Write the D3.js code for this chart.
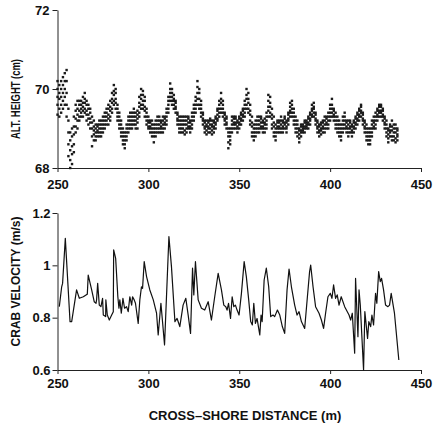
<!DOCTYPE html>
<html>
<head>
<meta charset="utf-8">
<script src="https://cdn.jsdelivr.net/npm/d3@7"></script>
<style>
  body { margin: 0; background: #fff; }
  svg text { font-family: "Liberation Sans", Arial, sans-serif; font-weight: bold; fill: #111; }
</style>
</head>
<body>
<svg id="chart" width="435" height="431"></svg>
<script>
// x ticks shared by both panels
const distTicks = [250, 300, 350, 400, 450];
const altTicks = [68, 70, 72];
const velTicks = [0.6, 0.8, 1, 1.2];

// altimeter height: [distance, heights seen in that column...]
const altCols = [
  [250, 69.35, 69.6, 69.8, 70.0, 70.2], [251, 69.3, 69.5, 69.75, 69.9, 70.1],
  [252, 69.4, 69.6, 69.8, 70.0, 70.2], [253, 69.5, 69.7, 69.9, 70.1, 70.3],
  [254, 69.6, 69.8, 70.0, 70.2, 70.4], [255, 69.3, 69.6, 69.9, 70.2, 70.48],
  [256, 68.3, 68.6, 68.9, 69.2, 69.5], [257, 68.0, 68.2, 68.45, 68.7, 68.9],
  [258, 68.1, 68.35, 68.55, 68.8, 69.0], [259, 68.4, 68.6, 68.85, 69.05, 69.3],
  [260, 68.9, 69.05, 69.25, 69.45, 69.6], [261, 69.0, 69.2, 69.35, 69.5, 69.7],
  [262, 69.2, 69.3, 69.45, 69.6, 69.7], [263, 69.3, 69.4, 69.5, 69.6, 69.7],
  [264, 69.3, 69.45, 69.55, 69.65, 69.8], [265, 69.4, 69.5, 69.65, 69.75, 69.9],
  [266, 69.2, 69.35, 69.45, 69.6, 69.7], [267, 69.1, 69.25, 69.35, 69.5, 69.6],
  [268, 69.0, 69.15, 69.25, 69.4, 69.5], [269, 68.55, 68.8, 69.0, 69.15, 69.3],
  [270, 68.7, 68.85, 68.95, 69.05, 69.2], [271, 68.7, 68.8, 68.9, 69.0, 69.1],
  [272, 68.8, 68.9, 68.95, 69.05, 69.1], [273, 68.8, 68.9, 69.0, 69.1, 69.2],
  [274, 68.8, 68.9, 69.0, 69.1, 69.2], [275, 68.9, 69.0, 69.1, 69.2, 69.3],
  [276, 69.0, 69.1, 69.2, 69.3, 69.4], [277, 69.1, 69.2, 69.3, 69.4, 69.5],
  [278, 69.1, 69.25, 69.35, 69.5, 69.6], [279, 69.2, 69.3, 69.45, 69.55, 69.7],
  [280, 69.4, 69.5, 69.65, 69.75, 69.9], [281, 69.6, 69.7, 69.85, 69.95, 70.1],
  [282, 69.5, 69.65, 69.75, 69.9, 70.0], [283, 69.2, 69.3, 69.4, 69.5, 69.6],
  [284, 69.0, 69.1, 69.2, 69.3, 69.4], [285, 68.8, 68.9, 69.0, 69.1, 69.2],
  [286, 68.6, 68.7, 68.8, 68.9, 69.0], [287, 68.5, 68.6, 68.7, 68.8, 68.9],
  [288, 68.7, 68.8, 68.9, 69.0, 69.1], [289, 68.9, 69.0, 69.1, 69.2, 69.3],
  [290, 69.0, 69.1, 69.2, 69.3, 69.4], [291, 69.0, 69.1, 69.2, 69.3, 69.4],
  [292, 69.1, 69.2, 69.3, 69.4, 69.5], [293, 69.0, 69.1, 69.2, 69.3, 69.4],
  [294, 69.0, 69.15, 69.25, 69.35, 69.45], [295, 69.3, 69.4, 69.55, 69.65, 69.8],
  [296, 69.5, 69.6, 69.75, 69.85, 70.0], [297, 69.5, 69.6, 69.7, 69.85, 69.95],
  [298, 69.3, 69.45, 69.55, 69.7, 69.8], [299, 69.1, 69.2, 69.3, 69.4, 69.5],
  [300, 69.0, 69.05, 69.15, 69.2, 69.3], [301, 68.9, 69.0, 69.05, 69.15, 69.2],
  [302, 68.8, 68.9, 69.0, 69.1, 69.2], [303, 68.65, 68.8, 68.9, 69.0, 69.1],
  [304, 68.8, 68.9, 69.0, 69.1, 69.2], [305, 68.9, 69.0, 69.1, 69.2, 69.3],
  [306, 68.9, 69.0, 69.1, 69.2, 69.3], [307, 68.9, 69.0, 69.05, 69.15, 69.2],
  [308, 68.9, 69.0, 69.1, 69.2, 69.3], [309, 69.0, 69.1, 69.15, 69.25, 69.3],
  [310, 69.1, 69.2, 69.3, 69.4, 69.5], [311, 69.4, 69.5, 69.6, 69.7, 69.8],
  [312, 69.7, 69.8, 69.9, 70.0, 70.14], [313, 69.6, 69.7, 69.8, 69.9, 70.0],
  [314, 69.5, 69.6, 69.7, 69.75, 69.85], [315, 69.4, 69.5, 69.55, 69.65, 69.7],
  [316, 69.1, 69.2, 69.25, 69.35, 69.4], [317, 68.9, 69.0, 69.1, 69.2, 69.3],
  [318, 68.9, 69.0, 69.1, 69.2, 69.3], [319, 68.9, 69.0, 69.1, 69.2, 69.3],
  [320, 68.85, 68.95, 69.1, 69.2, 69.3], [321, 68.9, 69.0, 69.1, 69.2, 69.3],
  [322, 69.0, 69.05, 69.15, 69.25, 69.3], [323, 68.9, 69.0, 69.05, 69.15, 69.2],
  [324, 69.0, 69.1, 69.2, 69.3, 69.4], [325, 69.2, 69.3, 69.4, 69.5, 69.6],
  [326, 69.4, 69.5, 69.6, 69.7, 69.8], [327, 69.6, 69.75, 69.9, 70.05, 70.2],
  [328, 69.5, 69.6, 69.75, 69.9, 70.0], [329, 69.3, 69.4, 69.5, 69.6, 69.7],
  [330, 69.1, 69.2, 69.25, 69.35, 69.4], [331, 68.9, 69.0, 69.05, 69.15, 69.2],
  [332, 68.85, 68.95, 69.05, 69.1, 69.2], [333, 68.9, 69.0, 69.05, 69.15, 69.2],
  [334, 68.9, 69.0, 69.1, 69.2, 69.25], [335, 68.85, 68.95, 69.05, 69.1, 69.2],
  [336, 68.9, 69.0, 69.05, 69.15, 69.2], [337, 69.0, 69.1, 69.15, 69.25, 69.3],
  [338, 69.2, 69.25, 69.35, 69.45, 69.5], [339, 69.3, 69.4, 69.5, 69.6, 69.7],
  [340, 69.4, 69.5, 69.65, 69.75, 69.9], [341, 69.3, 69.4, 69.5, 69.6, 69.7],
  [342, 69.1, 69.2, 69.25, 69.35, 69.4], [343, 69.0, 69.1, 69.15, 69.25, 69.3],
  [344, 68.5, 68.65, 68.8, 68.9, 69.0], [345, 68.6, 68.7, 68.8, 68.9, 69.0],
  [346, 68.9, 69.0, 69.1, 69.2, 69.3], [347, 69.0, 69.1, 69.15, 69.25, 69.3],
  [348, 69.0, 69.1, 69.15, 69.25, 69.3], [349, 68.9, 69.0, 69.05, 69.15, 69.2],
  [350, 69.0, 69.1, 69.15, 69.25, 69.3], [351, 69.1, 69.2, 69.25, 69.35, 69.4],
  [352, 69.2, 69.3, 69.35, 69.45, 69.5], [353, 69.3, 69.4, 69.5, 69.6, 69.7],
  [354, 69.5, 69.6, 69.75, 69.85, 70.0], [355, 69.4, 69.5, 69.65, 69.75, 69.9],
  [356, 69.1, 69.2, 69.35, 69.45, 69.6], [357, 68.8, 68.9, 69.05, 69.15, 69.3],
  [358, 68.7, 68.8, 68.9, 69.0, 69.1], [359, 68.8, 68.9, 69.0, 69.1, 69.2],
  [360, 68.9, 69.0, 69.1, 69.2, 69.3], [361, 68.9, 69.0, 69.1, 69.2, 69.3],
  [362, 69.0, 69.05, 69.15, 69.25, 69.3], [363, 68.9, 69.0, 69.05, 69.15, 69.2],
  [364, 68.9, 69.0, 69.1, 69.15, 69.25], [365, 69.0, 69.1, 69.2, 69.3, 69.4],
  [366, 69.3, 69.45, 69.55, 69.7, 69.85], [367, 69.3, 69.4, 69.55, 69.65, 69.8],
  [368, 69.0, 69.1, 69.25, 69.35, 69.5], [369, 68.8, 68.9, 69.05, 69.15, 69.3],
  [370, 68.7, 68.8, 68.9, 69.0, 69.1], [371, 68.9, 69.0, 69.05, 69.15, 69.2],
  [372, 68.9, 69.0, 69.05, 69.15, 69.2], [373, 68.9, 69.0, 69.1, 69.2, 69.3],
  [374, 68.9, 69.0, 69.05, 69.15, 69.2], [375, 69.0, 69.1, 69.15, 69.25, 69.3],
  [376, 68.9, 69.0, 69.05, 69.15, 69.2], [377, 69.1, 69.2, 69.25, 69.35, 69.4],
  [378, 69.3, 69.4, 69.45, 69.55, 69.65], [379, 69.3, 69.4, 69.5, 69.6, 69.7],
  [380, 69.1, 69.2, 69.3, 69.4, 69.5], [381, 68.9, 69.0, 69.1, 69.2, 69.3],
  [382, 68.8, 68.9, 69.0, 69.1, 69.2], [383, 68.65, 68.75, 68.85, 68.95, 69.0],
  [384, 68.8, 68.9, 68.95, 69.05, 69.1], [385, 68.9, 68.95, 69.0, 69.05, 69.1],
  [386, 68.9, 69.0, 69.05, 69.15, 69.2], [387, 69.0, 69.05, 69.1, 69.15, 69.2],
  [388, 69.0, 69.1, 69.15, 69.25, 69.3], [389, 69.1, 69.2, 69.25, 69.35, 69.4],
  [390, 69.3, 69.35, 69.45, 69.5, 69.6], [391, 69.3, 69.4, 69.5, 69.55, 69.65],
  [392, 69.1, 69.2, 69.25, 69.35, 69.4], [393, 68.9, 69.0, 69.05, 69.15, 69.2],
  [394, 68.8, 68.9, 68.95, 69.05, 69.1], [395, 68.85, 68.95, 69.0, 69.1, 69.15],
  [396, 68.9, 69.0, 69.05, 69.15, 69.2], [397, 68.9, 69.0, 69.1, 69.2, 69.3],
  [398, 69.0, 69.1, 69.15, 69.25, 69.3], [399, 69.0, 69.1, 69.2, 69.3, 69.4],
  [400, 69.2, 69.3, 69.4, 69.5, 69.6], [401, 69.3, 69.4, 69.5, 69.6, 69.75],
  [402, 69.2, 69.3, 69.35, 69.45, 69.5], [403, 69.0, 69.1, 69.2, 69.3, 69.4],
  [404, 68.9, 69.0, 69.1, 69.2, 69.3], [405, 68.8, 68.9, 69.0, 69.1, 69.2],
  [406, 68.7, 68.8, 68.9, 69.0, 69.1], [407, 68.9, 69.0, 69.1, 69.2, 69.3],
  [408, 69.0, 69.1, 69.2, 69.3, 69.4], [409, 68.9, 69.0, 69.05, 69.15, 69.2],
  [410, 68.8, 68.9, 69.0, 69.1, 69.2], [411, 68.9, 69.0, 69.05, 69.15, 69.2],
  [412, 68.8, 68.9, 68.95, 69.05, 69.1], [413, 68.9, 69.0, 69.05, 69.15, 69.2],
  [414, 69.0, 69.1, 69.15, 69.25, 69.3], [415, 69.1, 69.2, 69.25, 69.35, 69.4],
  [416, 69.2, 69.3, 69.35, 69.45, 69.5], [417, 69.3, 69.4, 69.45, 69.55, 69.6],
  [418, 69.1, 69.2, 69.25, 69.35, 69.4], [419, 68.9, 69.0, 69.05, 69.15, 69.2],
  [420, 68.7, 68.8, 68.9, 69.0, 69.1], [421, 68.6, 68.7, 68.8, 68.9, 69.0],
  [422, 68.6, 68.7, 68.8, 68.9, 69.0], [423, 68.8, 68.9, 69.0, 69.1, 69.2],
  [424, 69.0, 69.05, 69.15, 69.2, 69.3], [425, 69.0, 69.1, 69.2, 69.3, 69.4],
  [426, 69.2, 69.3, 69.35, 69.45, 69.5], [427, 69.3, 69.4, 69.45, 69.55, 69.6],
  [428, 69.3, 69.4, 69.45, 69.55, 69.6], [429, 69.2, 69.3, 69.35, 69.45, 69.5],
  [430, 69.0, 69.1, 69.15, 69.25, 69.3], [431, 68.8, 68.9, 69.0, 69.1, 69.2],
  [432, 68.65, 68.75, 68.85, 68.95, 69.0], [433, 68.8, 68.9, 68.95, 69.05, 69.1],
  [434, 68.7, 68.8, 68.95, 69.05, 69.2], [435, 68.7, 68.8, 68.9, 69.0, 69.1],
  [436, 68.65, 68.75, 68.9, 69.0, 69.1], [437, 68.7, 68.8, 68.85, 68.95, 69.0]
];

// crab velocity trace
const velDist = [
  251.0, 252.3, 252.8, 254.3, 256.9, 257.8, 260.5, 262.0, 264.2, 265.7, 266.4, 266.9,
  268.8, 270.2, 271.2, 271.5, 272.1, 273.0, 273.9, 274.8, 275.2, 276.5, 276.6, 277.4,
  278.5, 279.8, 280.7, 280.9, 282.0, 283.2, 283.8, 284.3, 285.1, 286.0, 286.9, 288.0,
  288.9, 289.8, 290.8, 291.3, 292.2, 292.9, 294.4, 295.3, 296.2, 296.8, 297.7, 299.0,
  300.8, 302.7, 304.5, 305.4, 306.9, 308.9, 311.3, 312.7, 314.6, 315.8, 317.3, 319.1,
  320.6, 321.9, 323.2, 324.3, 325.0, 325.9, 327.4, 329.2, 331.0, 332.9, 334.7, 336.5,
  338.4, 340.2, 341.5, 342.6, 343.3, 344.1, 345.2, 346.1, 347.0, 347.9, 348.8, 349.9,
  351.2, 352.7, 353.9, 355.2, 356.3, 357.2, 358.0, 358.9, 359.8, 360.7, 361.3, 362.0,
  362.6, 363.7, 364.9, 366.2, 367.3, 368.6, 369.5, 371.0, 372.3, 373.7, 375.0, 376.3,
  377.4, 378.7, 380.5, 381.8, 382.9, 384.2, 386.0, 387.5, 388.7, 389.3, 390.6, 392.0,
  393.9, 395.2, 396.4, 397.5, 398.8, 400.1, 401.0, 401.9, 403.0, 403.9, 404.9, 406.1,
  408.0, 410.4, 411.3, 412.2, 413.5, 414.0, 415.3, 415.9, 416.6, 418.4, 419.1, 420.6,
  421.3, 422.3, 423.0, 423.9, 425.0, 425.7, 426.7, 427.6, 428.3, 429.4, 430.5, 431.8,
  432.7, 433.6, 435.4, 437.8
];
const velValues = [
  0.842, 0.918, 0.931, 1.103, 0.785, 0.785, 0.906, 0.874, 0.880, 0.887, 0.890, 0.963,
  0.906, 0.861, 0.855, 0.868, 0.931, 0.848, 0.842, 0.874, 0.810, 0.804, 0.868, 0.810,
  0.791, 0.810, 0.823, 1.059, 1.027, 0.880, 0.836, 0.868, 0.817, 0.874, 0.836, 0.842,
  0.823, 0.880, 0.848, 0.880, 0.868, 0.855, 0.778, 0.868, 0.918, 0.912, 1.014, 0.957,
  0.906, 0.868, 0.817, 0.734, 0.855, 0.696, 1.110, 0.995, 0.785, 0.797, 0.766, 0.848,
  0.874, 0.810, 0.740, 0.989, 0.887, 1.014, 0.868, 0.836, 0.829, 0.861, 0.791, 0.880,
  0.969, 0.906, 0.848, 0.842, 0.829, 0.855, 0.797, 0.880, 0.842, 0.848, 0.829, 0.810,
  0.893, 1.014, 0.957, 0.868, 0.785, 0.772, 0.855, 0.778, 0.797, 0.759, 0.734, 0.810,
  0.785, 0.944, 0.989, 0.918, 0.804, 0.810, 0.804, 0.829, 0.810, 0.766, 0.740, 0.906,
  0.986, 0.918, 0.848, 0.810, 0.823, 0.785, 0.759, 0.880, 0.976, 1.001, 0.918, 0.842,
  0.817, 0.791, 0.759, 0.817, 0.880, 0.893, 0.874, 0.925, 0.874, 0.887, 0.848, 0.880,
  0.842, 0.810, 0.791, 0.817, 0.664, 0.950, 0.727, 0.906, 0.848, 0.600, 0.823, 0.721,
  0.785, 0.766, 0.810, 0.772, 0.893, 0.855, 0.976, 0.938, 0.950, 0.906, 0.848, 0.842,
  0.848, 0.893, 0.817, 0.638
];

const svg = d3.select("#chart");

const x = d3.scaleLinear().domain([250, 450]).range([57.5, 421]);
const yAlt = d3.scaleLinear().domain([68, 72]).range([168, 10]);
const yVel = d3.scaleLinear().domain([0.6, 1.2]).range([370, 213]);

function styleAxis(g) {
  g.selectAll("path, line").attr("stroke", "#222").attr("stroke-width", 1);
  g.selectAll("text").attr("font-size", 13).attr("fill", "#111")
    .attr("font-family", "Liberation Sans, Arial, sans-serif").attr("font-weight", "bold");
}

// top panel axes
svg.append("g")
  .attr("transform", `translate(0,${yAlt(68)})`)
  .call(d3.axisBottom(x).tickValues(distTicks).tickSize(4).tickSizeOuter(0).tickPadding(8))
  .call(styleAxis);
svg.append("g")
  .attr("transform", `translate(${x(250)},0)`)
  .call(d3.axisLeft(yAlt).tickValues(altTicks).tickSize(5).tickSizeOuter(0).tickPadding(3)
    .tickFormat(d3.format("d")))
  .call(styleAxis);

// bottom panel axes
svg.append("g")
  .attr("transform", `translate(0,${yVel(0.6)})`)
  .call(d3.axisBottom(x).tickValues(distTicks).tickSize(4).tickSizeOuter(0).tickPadding(5))
  .call(styleAxis);
svg.append("g")
  .attr("transform", `translate(${x(250)},0)`)
  .call(d3.axisLeft(yVel).tickValues(velTicks).tickSize(5).tickSizeOuter(0).tickPadding(2)
    .tickFormat(d3.format("~g")))
  .call(styleAxis);

// scatter of heights
const altPoints = altCols.flatMap(c => c.slice(1).map(h => ({d: c[0], h: h})));
svg.append("g")
  .selectAll("rect")
  .data(altPoints)
  .join("rect")
  .attr("x", p => x(p.d) - 1.2)
  .attr("y", p => yAlt(p.h) - 1.2)
  .attr("width", 2.4)
  .attr("height", 2.4)
  .attr("fill", "#1a1a1a");

// velocity line
const velData = velDist.map((d, i) => ({d: d, v: velValues[i]}));
svg.append("path")
  .datum(velData)
  .attr("fill", "none")
  .attr("stroke", "#111")
  .attr("stroke-width", 1.2)
  .attr("stroke-linejoin", "round")
  .attr("d", d3.line().x(p => x(p.d)).y(p => yVel(p.v)));

// axis titles
svg.append("text")
  .attr("transform", `translate(20,${(yAlt(68) + yAlt(72)) / 2 + 10}) rotate(-90)`)
  .attr("text-anchor", "middle")
  .attr("font-size", 12.5)
  .attr("textLength", 80)
  .attr("lengthAdjust", "spacingAndGlyphs")
  .text("ALT. HEIGHT (cm)");

svg.append("text")
  .attr("transform", `translate(20,${(yVel(0.6) + yVel(1.2)) / 2 - 10}) rotate(-90)`)
  .attr("text-anchor", "middle")
  .attr("font-size", 12)
  .text("CRAB VELOCITY (m/s)");

svg.append("text")
  .attr("x", 245)
  .attr("y", 420)
  .attr("text-anchor", "middle")
  .attr("font-size", 13)
  .text("CROSS\u2013SHORE DISTANCE (m)");
</script>
</body>
</html>
